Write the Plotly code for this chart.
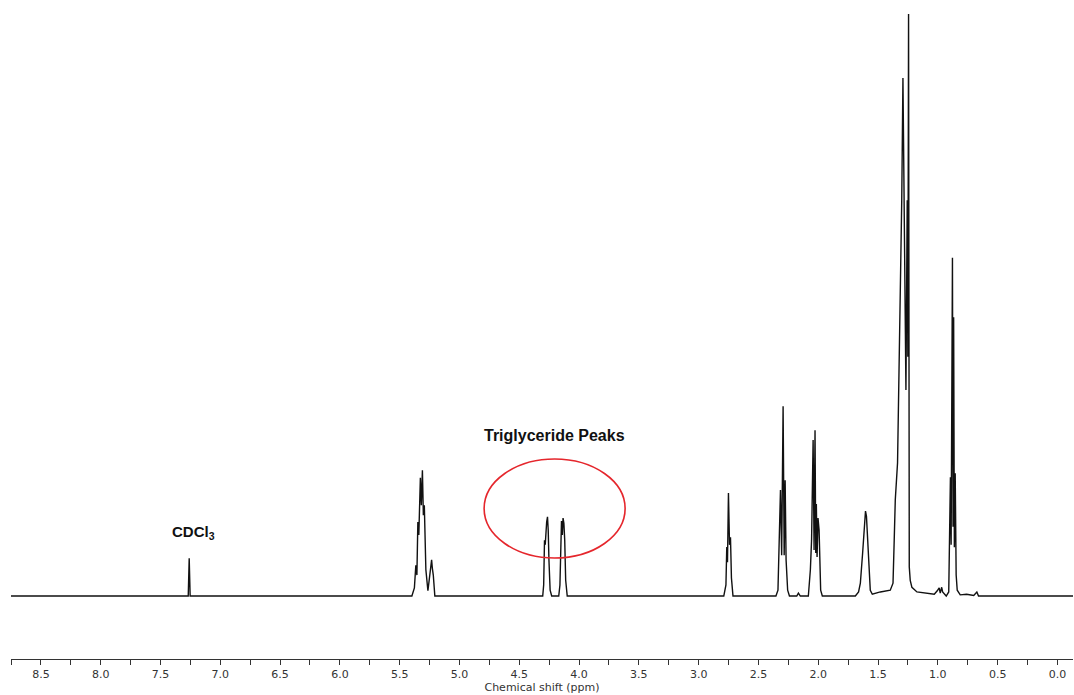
import plotly.graph_objects as go

# 1H NMR spectrum, vertices (chemical shift in ppm, relative intensity)
shift_ppm = [
    8.75, 7.268, 7.26, 7.252,
    5.398, 5.377, 5.365, 5.356, 5.348, 5.340, 5.327, 5.319, 5.310, 5.302, 5.294, 5.281,
    5.264, 5.248, 5.239, 5.233, 5.227, 5.219, 5.206,
    4.304, 4.296, 4.289, 4.283, 4.277, 4.271, 4.264, 4.258, 4.252, 4.242, 4.229,
    4.170, 4.160, 4.154, 4.147, 4.140, 4.134, 4.127, 4.120, 4.112, 4.099,
    2.790, 2.772, 2.765, 2.759, 2.751, 2.742, 2.734, 2.726, 2.713,
    2.354, 2.337, 2.325, 2.316, 2.306, 2.294, 2.285, 2.277, 2.269, 2.256, 2.241,
    2.180, 2.166, 2.150,
    2.083, 2.066, 2.056, 2.043, 2.035, 2.027, 2.021, 2.016, 2.010, 2.002, 1.993, 1.988,
    1.980, 1.966,
    1.690, 1.663, 1.648, 1.629, 1.615, 1.605, 1.597, 1.587, 1.576, 1.565, 1.548,
    1.481, 1.398, 1.375, 1.365, 1.356, 1.337, 1.314, 1.302, 1.292, 1.281, 1.267,
    1.256, 1.251, 1.245, 1.239, 1.231, 1.217, 1.175, 1.106, 1.030,
    1.005, 0.989, 0.980, 0.968, 0.960, 0.947,
    0.930, 0.909, 0.901, 0.895, 0.889, 0.878, 0.873, 0.868, 0.862, 0.855, 0.847, 0.838,
    0.813, 0.760, 0.700, 0.674, 0.660, -0.13,
]
intensity = [
    0.0, 0.0, 6.5, 0.0,
    0.0, 1.4, 5.3, 3.6, 12.7, 10.5, 20.3, 15.6, 21.6, 13.9, 15.6, 4.5,
    0.9, 3.6, 5.2, 6.2, 4.8, 3.6, 0.0,
    0.0, 1.9, 9.6, 8.8, 11.3, 12.7, 13.6, 11.3, 6.2, 1.0, 0.0,
    0.0, 1.9, 11.3, 12.9, 10.5, 13.4, 12.5, 9.6, 2.7, 0.0,
    0.0, 1.9, 8.4, 5.8, 17.7, 8.8, 10.1, 3.1, 0.0,
    0.0, 1.0, 11.3, 18.2, 7.0, 32.6, 7.0, 19.9, 6.2, 1.0, 0.0,
    0.0, 0.5, 0.0,
    0.0, 4.5, 9.6, 26.8, 7.9, 28.5, 7.4, 15.8, 6.7, 13.4, 11.3, 6.7,
    1.0, 0.0,
    0.0, 0.7, 2.2, 7.4, 12.5, 14.6, 13.7, 10.1, 5.0, 1.0, 0.3,
    0.7, 1.0, 2.2, 9.6, 16.5, 22.9, 50.9, 68.0, 89.0, 59.5, 35.4,
    68.0, 41.1, 100.0, 5.0, 2.7, 1.5, 0.7, 0.5, 0.3,
    0.9, 1.4, 0.5, 1.5, 0.7, 0.3,
    0.0, 0.7, 9.6, 20.4, 8.8, 58.1, 11.9, 47.9, 8.4, 21.1, 3.6, 1.0,
    0.2, 0.3, 0.1, 0.7, 0.0, 0.0,
]

major_ticks = [8.5, 8.0, 7.5, 7.0, 6.5, 6.0, 5.5, 5.0, 4.5, 4.0, 3.5, 3.0, 2.5, 2.0, 1.5, 1.0, 0.5, 0.0]
major_labels = ["%.1f" % v for v in major_ticks]

solvent_label = "CDCl<sub>3</sub>"
region_label = "Triglyceride Peaks"

fig = go.Figure()
fig.add_trace(go.Scatter(
    x=shift_ppm, y=intensity, mode="lines",
    line=dict(color="#111111", width=1.4),
    hoverinfo="skip", showlegend=False,
))

y_min, y_max = -10.82, 102.4

fig.add_shape(type="circle", xref="x", yref="y",
              x0=4.794, x1=3.615, y0=6.53, y1=23.54,
              line=dict(color="#e5262c", width=1.6))

fig.add_annotation(x=7.228, y=11.0, xref="x", yref="y", text="<b>" + solvent_label + "</b>",
                   showarrow=False, font=dict(family="Liberation Sans, Arial", size=15, color="#111111"))
fig.add_annotation(x=4.205, y=27.5, xref="x", yref="y", text="<b>" + region_label + "</b>",
                   showarrow=False, font=dict(family="Liberation Sans, Arial", size=16, color="#111111"))

fig.update_layout(
    width=1074, height=695,
    margin=dict(l=11, r=1, t=0, b=36),
    paper_bgcolor="white", plot_bgcolor="white",
    xaxis=dict(
        range=[8.75, -0.13], showgrid=False, zeroline=False,
        showline=True, linecolor="#333333", linewidth=1,
        ticks="outside", ticklen=5, tickcolor="#333333", tickwidth=1,
        tickvals=major_ticks, ticktext=major_labels,
        tickfont=dict(family="DejaVu Sans, Verdana", size=11, color="#333333"),
        minor=dict(dtick=0.25, tick0=0, ticks="outside", ticklen=5, tickcolor="#333333", tickwidth=1),
        title=dict(text="Chemical shift (ppm)", standoff=1,
                   font=dict(family="DejaVu Sans, Verdana", size=11, color="#333333")),
        automargin=False, fixedrange=True,
    ),
    yaxis=dict(range=[y_min, y_max], visible=False, fixedrange=True),
)

fig.write_html("out.html")
